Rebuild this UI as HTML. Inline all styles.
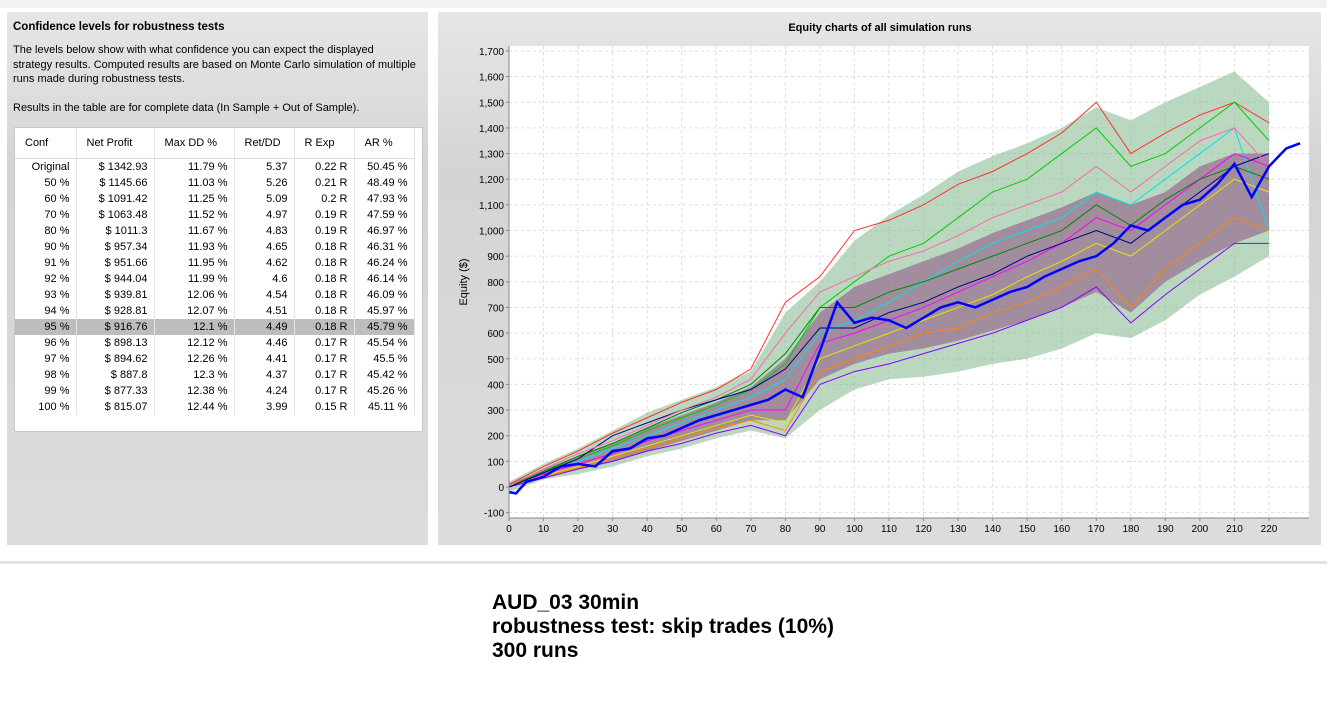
<!DOCTYPE html>
<html><head><meta charset="utf-8"><style>
body{margin:0;width:1327px;height:706px;background:#fff;font-family:"Liberation Sans",sans-serif;position:relative;overflow:hidden}
.panel{position:absolute;background:linear-gradient(#e6e6e6,#d4d4d4 30%,#dcdcdc)}
table{border-collapse:collapse;font-size:11px;color:#000;table-layout:fixed;width:399px}
td,th{padding:0 6px;height:16px;line-height:16px;text-align:right;border-right:1px solid #e4e4e4;box-sizing:border-box;white-space:nowrap;overflow:hidden}
th{font-weight:normal;text-align:left;height:30px;border-bottom:1px solid #ddd;padding-left:10px}
tr.sel td{background:#bdbdbd}
</style></head><body>
<div style="position:absolute;left:0;top:0;width:1327px;height:8px;background:#f2f2f2"></div>
<div style="position:absolute;left:0;top:561px;width:1327px;height:3px;background:#e2e2e2"></div>
<div class="panel" style="left:7px;top:12px;width:421px;height:533px">
 <div style="position:absolute;left:6px;top:9px;font-size:11.5px;font-weight:bold">Confidence levels for robustness tests</div>
 <div style="position:absolute;left:6px;top:31px;font-size:11px;line-height:14.6px;white-space:nowrap">The levels below show with what confidence you can expect the displayed<br>strategy results. Computed results are based on Monte Carlo simulation of multiple<br>runs made during robustness tests.<br><br>Results in the table are for complete data (In Sample + Out of Sample).</div>
 <div style="position:absolute;left:7px;top:115px;width:407px;height:303px;background:#fff;border:1px solid #c8c8c8;overflow:hidden">
 <table id="tbl"><colgroup><col style="width:61px"><col style="width:78px"><col style="width:80px"><col style="width:60px"><col style="width:60px"><col style="width:60px"></colgroup><thead><tr><th>Conf</th><th>Net Profit</th><th>Max DD %</th><th>Ret/DD</th><th>R Exp</th><th>AR %</th></tr></thead><tbody></tbody></table>
 </div>
</div>
<div class="panel" style="left:438px;top:12px;width:883px;height:533px"></div>
<svg id="chart" width="1327" height="706" style="position:absolute;left:0;top:0"></svg>
<div style="position:absolute;left:492px;top:591px;font-size:21px;font-weight:bold;line-height:24px">AUD_03 30min<br>robustness test: skip trades (10%)<br>300 runs</div>
<script>
const rows=[["Original","$ 1342.93","11.79 %","5.37","0.22 R","50.45 %"],["50 %","$ 1145.66","11.03 %","5.26","0.21 R","48.49 %"],["60 %","$ 1091.42","11.25 %","5.09","0.2 R","47.93 %"],["70 %","$ 1063.48","11.52 %","4.97","0.19 R","47.59 %"],["80 %","$ 1011.3","11.67 %","4.83","0.19 R","46.97 %"],["90 %","$ 957.34","11.93 %","4.65","0.18 R","46.31 %"],["91 %","$ 951.66","11.95 %","4.62","0.18 R","46.24 %"],["92 %","$ 944.04","11.99 %","4.6","0.18 R","46.14 %"],["93 %","$ 939.81","12.06 %","4.54","0.18 R","46.09 %"],["94 %","$ 928.81","12.07 %","4.51","0.18 R","45.97 %"],["95 %","$ 916.76","12.1 %","4.49","0.18 R","45.79 %"],["96 %","$ 898.13","12.12 %","4.46","0.17 R","45.54 %"],["97 %","$ 894.62","12.26 %","4.41","0.17 R","45.5 %"],["98 %","$ 887.8","12.3 %","4.37","0.17 R","45.42 %"],["99 %","$ 877.33","12.38 %","4.24","0.17 R","45.26 %"],["100 %","$ 815.07","12.44 %","3.99","0.15 R","45.11 %"]];
const tb=document.querySelector('#tbl tbody');
rows.forEach((r,i)=>{const tr=document.createElement('tr');


if(r[0]==='95 %')tr.className='sel';
tr.innerHTML=r.map(c=>'<td>'+c+'</td>').join('');tb.appendChild(tr);});

const xs=[0,10,20,30,40,50,60,70,80,90,100,110,120,130,140,150,160,170,180,190,200,210,220];
const upper=[20,90,150,220,290,340,390,450,680,800,960,1060,1140,1230,1290,1340,1400,1480,1430,1500,1560,1620,1500];
const lower=[-20,30,50,80,120,150,190,220,190,300,380,420,430,450,480,500,540,600,580,650,750,820,900];
const coreHi=[10,70,120,170,230,280,330,390,500,680,780,830,880,930,990,1040,1090,1150,1100,1150,1250,1300,1300];
const coreLo=[0,40,70,100,140,180,220,260,260,420,480,520,540,570,610,650,700,760,680,800,880,950,1000];
const seriesColors=["#ff3030","#00cc00","#00e5e5","#ff00ff","#e5e500","#ff8800","#8800ff","#008800","#000088","#ff66aa"];
const series=[
[10,80,140,210,270,330,380,460,720,820,1000,1040,1100,1180,1230,1300,1380,1500,1300,1380,1450,1500,1420],
[5,60,110,160,220,270,320,380,480,700,800,900,950,1050,1150,1200,1300,1400,1250,1300,1400,1500,1350],
[0,55,100,150,200,250,300,350,420,600,650,720,800,880,950,1000,1050,1150,1100,1200,1300,1400,1000],
[0,50,90,130,180,220,260,300,300,560,600,650,700,760,820,880,950,1050,1000,1100,1200,1300,1250],
[5,45,80,120,160,200,240,280,250,500,550,600,650,700,750,820,880,950,900,1000,1100,1200,1150],
[0,40,75,110,150,190,230,260,220,450,500,550,600,620,680,720,780,850,700,850,950,1050,1000],
[0,35,70,100,140,170,210,240,200,400,450,480,520,560,600,650,700,780,640,750,850,950,950],
[0,60,120,170,230,290,340,400,520,700,700,760,800,850,900,950,1000,1100,1020,1120,1200,1250,1200],
[0,55,110,200,250,300,340,380,460,620,620,680,720,780,830,900,950,1000,950,1050,1150,1250,1300],
[5,70,130,180,240,300,350,420,600,760,820,880,920,980,1050,1100,1150,1250,1150,1250,1350,1400,1250]];
const blueX=[0,2,5,10,15,20,25,30,35,40,45,50,55,60,65,70,75,80,85,90,95,100,105,110,115,120,125,130,135,140,145,150,155,160,165,170,175,180,185,190,195,200,205,210,215,220,225,229];
const blueY=[-20,-25,20,40,80,90,80,140,150,190,200,230,260,280,300,320,340,380,350,530,720,640,660,650,620,660,700,720,700,730,760,780,820,850,880,900,950,1020,1000,1050,1100,1120,1180,1260,1130,1250,1320,1340];
const yTicks=[-100,0,100,200,300,400,500,600,700,800,900,1000,1100,1200,1300,1400,1500,1600,1700];
const xTicks=[0,10,20,30,40,50,60,70,80,90,100,110,120,130,140,150,160,170,180,190,200,210,220];

const L=509,R=1309,T=46,B=518;
const X=v=>L+v*3.4545, Y=v=>487-v*0.2565;
const svg=document.getElementById('chart');const NS='http://www.w3.org/2000/svg';
function mk(t,a,p){const e=document.createElementNS(NS,t);for(const k in a)e.setAttribute(k,a[k]);(p||svg).appendChild(e);return e;}
const title=mk('text',{x:880,y:31,'text-anchor':'middle','font-size':11,'font-weight':'bold','font-family':'Liberation Sans'});title.textContent='Equity charts of all simulation runs';


const plot=mk('rect',{x:L,y:T,width:R-L,height:B-T,fill:'#fff'});


yTicks.forEach(v=>{mk('line',{x1:L,x2:R,y1:Y(v),y2:Y(v),stroke:'#ddd','stroke-dasharray':'3,3'});
const t=mk('text',{x:L-5,y:Y(v)+4,'text-anchor':'end','font-size':10,'font-family':'Liberation Sans'});t.textContent=v.toLocaleString('en-US');


mk('line',{x1:L-3,x2:L,y1:Y(v),y2:Y(v),stroke:'#888'});});
xTicks.forEach(v=>{mk('line',{x1:X(v),x2:X(v),y1:T,y2:B,stroke:'#ddd','stroke-dasharray':'3,3'});
const t=mk('text',{x:X(v),y:B+14,'text-anchor':'middle','font-size':10,'font-family':'Liberation Sans'});t.textContent=v;


mk('line',{x1:X(v),x2:X(v),y1:B,y2:B+3,stroke:'#888'});});
function band(hi,lo,fill,name){const pts=xs.map((x,i)=>X(x)+','+Y(hi[i])).concat(xs.map((x,i)=>X(x)+','+Y(lo[i])).reverse());
const p=mk('polygon',{points:pts.join(' '),fill:fill});

}
band(upper,lower,'rgba(140,190,150,0.6)','runs-envelope');
band(coreHi,coreLo,'rgba(140,80,130,0.55)','runs-core-band');
series.forEach((s,k)=>{const p=mk('polyline',{points:xs.map((x,i)=>X(x)+','+Y(s[i])).join(' '),fill:'none',stroke:seriesColors[k],'stroke-width':1});

});
const bl=mk('polyline',{points:blueX.map((x,i)=>X(x)+','+Y(blueY[i])).join(' '),fill:'none',stroke:'#0000ff','stroke-width':2.5});


mk('line',{x1:L,x2:L,y1:T,y2:B,stroke:'#888'});mk('line',{x1:L,x2:R,y1:B,y2:B,stroke:'#888'});
const yt=mk('text',{x:467,y:282,'text-anchor':'middle','font-size':11,'font-family':'Liberation Sans',transform:'rotate(-90 467 282)'});yt.textContent='Equity ($)';


</script>
</body></html>
